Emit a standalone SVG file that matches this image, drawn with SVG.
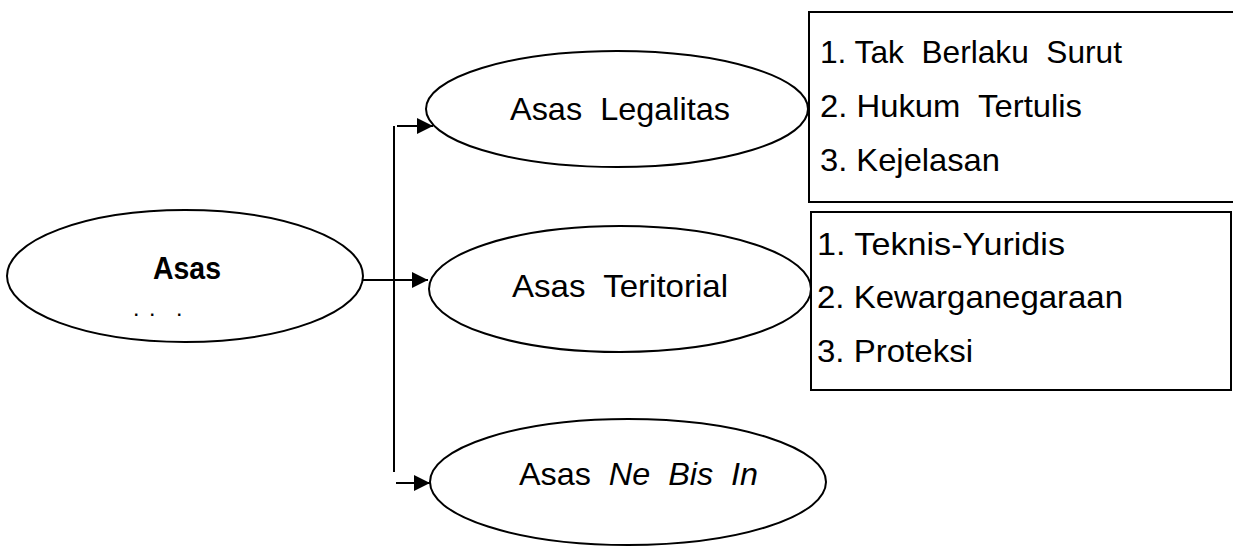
<svg xmlns="http://www.w3.org/2000/svg" width="1233" height="549" viewBox="0 0 1233 549">
<style>
.node{fill:#fff;stroke:#000;stroke-width:2}
.box{fill:#fff;stroke:#000;stroke-width:2}
.t{font-family:"Liberation Sans",Arial,sans-serif;font-size:32px;fill:#000;white-space:pre}
.b{font-weight:bold}
.line{stroke:#000;stroke-width:2;fill:none}
</style>
<defs>
<marker id="arr" markerWidth="16" markerHeight="16" refX="16" refY="8" orient="auto" markerUnits="userSpaceOnUse">
<path d="M0,0 L16,8 L0,16 z" fill="#000"/>
</marker>
</defs>
<rect width="1233" height="549" fill="#fff"/>
<g id="connectors">
<line class="line" x1="394" y1="126" x2="394" y2="472"/>
<line class="line" x1="397" y1="126" x2="433" y2="126" marker-end="url(#arr)"/>
<line class="line" x1="363" y1="280" x2="428" y2="280" marker-end="url(#arr)"/>
<line class="line" x1="396" y1="483" x2="430" y2="483" marker-end="url(#arr)"/>
</g>
<g id="asas">
<ellipse class="node" cx="185" cy="276" rx="178" ry="66"/>
<text class="t b" x="153" y="279" textLength="68" lengthAdjust="spacingAndGlyphs">Asas</text>
<text class="t b" x="134 150 177" y="316" style="font-size:16px">...</text>
</g>
<g id="legalitas">
<ellipse class="node" cx="617" cy="109" rx="191" ry="58"/>
<text class="t" x="510" y="120" textLength="220" lengthAdjust="spacingAndGlyphs">Asas  Legalitas</text>
</g>
<g id="teritorial">
<ellipse class="node" cx="620" cy="289" rx="191" ry="63"/>
<text class="t" x="512" y="297" textLength="216" lengthAdjust="spacingAndGlyphs">Asas  Teritorial</text>
</g>
<g id="nebisin">
<ellipse class="node" cx="628" cy="482" rx="198" ry="63"/>
<text class="t" x="519" y="485" textLength="239" lengthAdjust="spacingAndGlyphs">Asas  <tspan font-style="italic">Ne  Bis  In</tspan></text>
</g>
<g id="list-legalitas">
<rect class="box" x="809" y="12" width="440" height="190"/>
<text class="t" x="820" y="63" textLength="302" lengthAdjust="spacingAndGlyphs">1. Tak  Berlaku  Surut</text>
<text class="t" x="820" y="117" textLength="262" lengthAdjust="spacingAndGlyphs">2. Hukum  Tertulis</text>
<text class="t" x="820" y="171" textLength="180" lengthAdjust="spacingAndGlyphs">3. Kejelasan</text>
</g>
<g id="list-teritorial">
<rect class="box" x="811" y="212" width="420" height="178"/>
<text class="t" x="817" y="255" textLength="248" lengthAdjust="spacingAndGlyphs">1. Teknis-Yuridis</text>
<text class="t" x="817" y="308" textLength="306" lengthAdjust="spacingAndGlyphs">2. Kewarganegaraan</text>
<text class="t" x="817" y="362" textLength="156" lengthAdjust="spacingAndGlyphs">3. Proteksi</text>
</g>
</svg>
